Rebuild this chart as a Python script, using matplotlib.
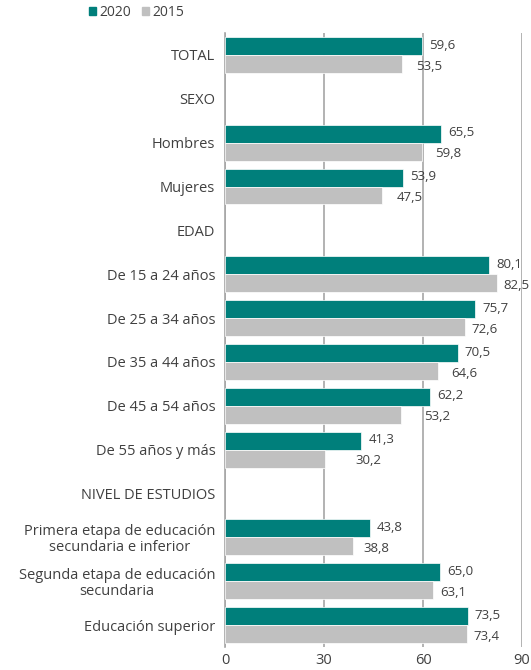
import matplotlib
matplotlib.use("Agg")
import matplotlib.pyplot as plt
from matplotlib.patches import Patch
import numpy as np

plt.rcParams['font.family'] = ['Open Sans', 'DejaVu Sans']

categories = ["TOTAL", "SEXO", "Hombres", "Mujeres", "EDAD",
              "De 15 a 24 años", "De 25 a 34 años", "De 35 a 44 años",
              "De 45 a 54 años", "De 55 años y más", "NIVEL DE ESTUDIOS",
              "Primera etapa de educación\nsecundaria e inferior",
              "Segunda etapa de educación\nsecundaria",
              "Educación superior"]
v2020 = [59.6, None, 65.5, 53.9, None, 80.1, 75.7, 70.5, 62.2, 41.3, None, 43.8, 65.0, 73.5]
v2015 = [53.5, None, 59.8, 47.5, None, 82.5, 72.6, 64.6, 53.2, 30.2, None, 38.8, 63.1, 73.4]
xticks = [0, 30, 60, 90]

teal = "#007f7b"
grey = "#c0c0c0"
txt = "#404040"

fig = plt.figure(figsize=(5.31, 6.70), dpi=100)
ax = fig.add_axes([225/531, 1-647/670, (522-225)/531, (647-33)/670])

y = np.arange(len(categories))
h = 0.41
for i, (a, b) in enumerate(zip(v2020, v2015)):
    if a is None:
        continue
    ax.barh(i - h/2, a, height=h, color=teal, edgecolor="white", linewidth=0.5, zorder=3)
    ax.barh(i + h/2, b, height=h, color=grey, edgecolor="white", linewidth=0.5, zorder=3)
    fa = f"{a:.1f}".replace(".", ",")
    fb = f"{b:.1f}".replace(".", ",")
    ax.text(a + 2.2, i - h/2 - 0.02, fa, va="center", ha="left", fontsize=9.5, color=txt)
    xb = max(b + 2.0, a - 1.8)
    ax.text(xb, i + h/2 + 0.05, fb, va="center", ha="left", fontsize=9.5, color=txt)

ax.set_xlim(0, 90)
ax.set_ylim(len(categories) - 0.5, -0.5)
ax.set_yticks(y)
ax.set_yticklabels(categories, fontsize=10.5, color=txt, multialignment="center",
                   linespacing=1.1)
ax.set_xticks(xticks)
ax.set_xticklabels([str(t) for t in xticks], fontsize=10.5, color=txt)
ax.tick_params(axis="both", length=0)
ax.tick_params(axis="y", pad=7)
ax.tick_params(axis="x", pad=4)
for s in ["top", "right", "bottom"]:
    ax.spines[s].set_visible(False)
ax.spines["left"].set_color("#a6a6a6")
ax.spines["left"].set_linewidth(1.2)
ax.set_axisbelow(True)
ax.xaxis.grid(True, color="#a6a6a6", linewidth=1.2)

handles = [Patch(color=teal, label="2020"), Patch(color=grey, label="2015")]
fig.legend(handles=handles, loc="center left", bbox_to_anchor=(89/531, 1-12/670),
           ncol=2, frameon=False, fontsize=10, handlelength=0.5, handleheight=0.5,
           handletextpad=0.25, columnspacing=0.8, labelcolor=txt, borderaxespad=0,
           borderpad=0)

fig.savefig("out.png", dpi=100)
